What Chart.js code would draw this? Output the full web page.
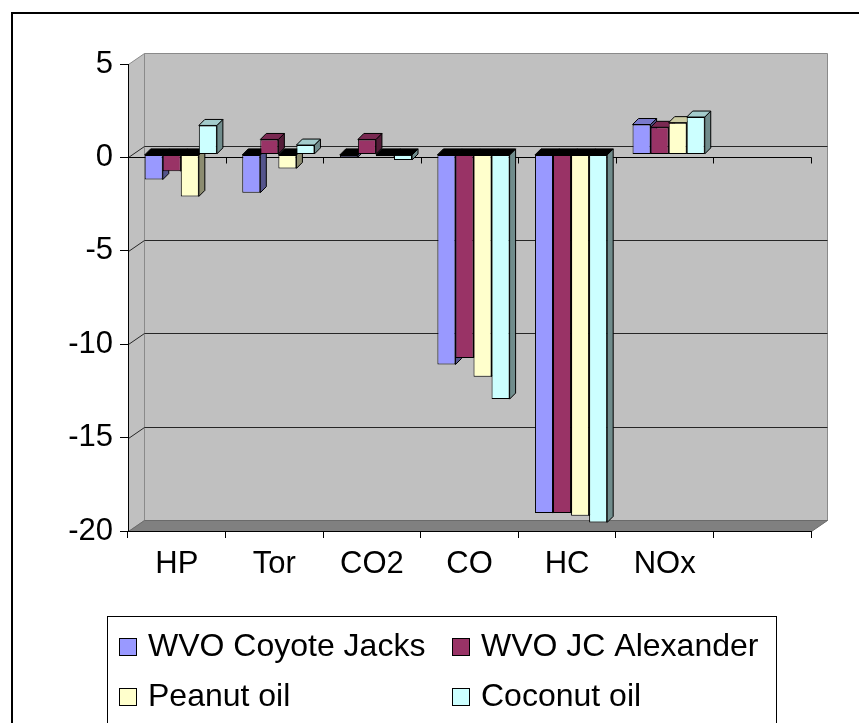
<!DOCTYPE html>
<html>
<head>
<meta charset="utf-8">
<script src="https://cdn.jsdelivr.net/npm/chart.js@4/dist/chart.umd.min.js"></script>
<style>
  html, body { margin: 0; padding: 0; background: #fff; }
  canvas { display: block; }
</style>
</head>
<body>
<canvas id="chart" width="859" height="723"></canvas>
<script>
// ── data ───────────────────────────────────────────────────────────
const categories = ['HP', 'Tor', 'CO2', 'CO', 'HC', 'NOx', ''];
const coyoteJacks = [-1.35, -2.05, -0.15, -11.25, -19.2, 1.6, null];
const jcAlexander = [-0.9, 0.8, 0.8, -10.9, -19.2, 1.45, null];
const peanutOil = [-2.25, -0.75, -0.1, -11.9, -19.35, 1.7, null];
const coconutOil = [1.55, 0.5, -0.3, -13.1, -19.7, 2.0, null];
const seriesNames = ['WVO Coyote Jacks', 'WVO JC Alexander', 'Peanut oil', 'Coconut oil'];
const seriesValues = [coyoteJacks, jcAlexander, peanutOil, coconutOil];
const seriesColors = ['#9999ff', '#993366', '#ffffcc', '#ccffff'];
const yMin = -20, yMax = 5, yStep = 5;

// ── 3D look ────────────────────────────────────────────────────────
const FONT = 'Liberation Sans, Arial, sans-serif';
const WALL_DX = 16, WALL_DY = -11;    // back wall offset from the front plane
const BAR_SHIFT_X = 4, BAR_SHIFT_Y = -3; // bars sit a little behind the front
const BAR_DX = 6, BAR_DY = -6;          // bar depth

function shade(hex, f) {
    const n = parseInt(hex.slice(1), 16);
    const r = Math.round(((n >> 16) & 255) * f);
    const g = Math.round(((n >> 8) & 255) * f);
    const b = Math.round((n & 255) * f);
    return `rgb(${r},${g},${b})`;
}

function poly(ctx, pts, fill, stroke) {
    ctx.beginPath();
    ctx.moveTo(pts[0][0], pts[0][1]);
    for (let i = 1; i < pts.length; i++) ctx.lineTo(pts[i][0], pts[i][1]);
    ctx.closePath();
    if (fill) { ctx.fillStyle = fill; ctx.fill(); }
    if (stroke) { ctx.strokeStyle = stroke; ctx.stroke(); }
}

const crisp = v => Math.round(v) + 0.5;

// Walls, floor, back gridlines and the front zero axis (behind the bars).
const wallPlugin = {
    id: 'wall3d',
    beforeDraw(chart) {
        const { ctx, chartArea: a, scales: { x, y } } = chart;
        ctx.save();

        // outer frame (top + left edge)
        ctx.strokeStyle = '#000';
        ctx.lineWidth = 2;
        ctx.beginPath();
        ctx.moveTo(12, chart.height);
        ctx.lineTo(12, 13);
        ctx.lineTo(chart.width, 13);
        ctx.stroke();

        ctx.lineWidth = 1;
        const L = crisp(a.left), R = crisp(a.right);
        const T = crisp(y.getPixelForValue(yMax)), B = crisp(y.getPixelForValue(yMin));

        // side wall
        poly(ctx, [[L, T], [L + WALL_DX, T + WALL_DY], [L + WALL_DX, B + WALL_DY], [L, B]], '#c0c0c0', '#8a8a8a');
        // back wall
        poly(ctx, [[L + WALL_DX, T + WALL_DY], [R + WALL_DX, T + WALL_DY], [R + WALL_DX, B + WALL_DY], [L + WALL_DX, B + WALL_DY]], '#c0c0c0', '#8a8a8a');
        // floor
        poly(ctx, [[L, B], [L + WALL_DX, B + WALL_DY], [R + WALL_DX, B + WALL_DY], [R, B]], '#808080', '#6a6a6a');

        // gridlines on the walls
        ctx.strokeStyle = '#262626';
        for (let v = yMax - yStep; v > yMin; v -= yStep) {
            const py = crisp(y.getPixelForValue(v));
            ctx.beginPath();
            ctx.moveTo(L, py);
            ctx.lineTo(L + WALL_DX, py + WALL_DY);
            ctx.lineTo(R + WALL_DX, py + WALL_DY);
            ctx.stroke();
        }

        // front zero axis with tick marks at category boundaries
        const z = crisp(y.getPixelForValue(0));
        ctx.strokeStyle = '#000';
        ctx.beginPath();
        ctx.moveTo(L, z);
        ctx.lineTo(R, z);
        const step = (x.right - x.left) / categories.length;
        for (let i = 0; i <= categories.length; i++) {
            const px = crisp(x.left + i * step);
            ctx.moveTo(px, z);
            ctx.lineTo(px, z + 6);
        }
        ctx.stroke();
        ctx.restore();
    },
    // Chart.js draws datasets last-to-first; we draw them ourselves in order
    // so each bar's front hides the side face of the bar on its left.
    beforeDatasetDraw() { return false; },
    afterDatasetsDraw(chart) {
        const ctx = chart.ctx;
        ctx.save();
        ctx.translate(BAR_SHIFT_X, BAR_SHIFT_Y);
        ctx.lineWidth = 1;
        chart.data.datasets.forEach((ds, di) => {
            const meta = chart.getDatasetMeta(di);
            meta.controller.draw();
            const color = seriesColors[di];
            meta.data.forEach((bar, i) => {
                if (ds.data[i] == null) return;
                const p = bar.getProps(['x', 'y', 'base', 'width'], true);
                const l = p.x - p.width / 2, r = p.x + p.width / 2;
                const t = Math.min(p.y, p.base), b = Math.max(p.y, p.base);
                const positive = p.y < p.base;
                poly(ctx, [[r, t], [r + BAR_DX, t + BAR_DY], [r + BAR_DX, b + BAR_DY], [r, b]], shade(color, 0.55), '#000');
                poly(ctx, [[l, t], [l + BAR_DX, t + BAR_DY], [r + BAR_DX, t + BAR_DY], [r, t]], positive ? shade(color, 0.8) : '#000', '#000');
            });
        });
        ctx.restore();
    }
};

// Boxed two-column legend under the chart.
const legendPlugin = {
    id: 'boxLegend',
    afterDraw(chart) {
        const ctx = chart.ctx;
        ctx.save();
        ctx.strokeStyle = '#000';
        ctx.lineWidth = 1;
        ctx.strokeRect(107.5, 616.5, 669, 140);
        const cols = [119, 452], rows = [638, 688], box = 17;
        ctx.font = `32px ${FONT}`;
        ctx.textBaseline = 'alphabetic';
        ctx.textAlign = 'left';
        chart.data.datasets.forEach((ds, i) => {
            const cx = cols[i % 2], cy = rows[Math.floor(i / 2)];
            ctx.fillStyle = ds.backgroundColor;
            ctx.fillRect(cx + 0.5, cy + 0.5, box, box);
            ctx.strokeRect(cx + 0.5, cy + 0.5, box, box);
            ctx.fillStyle = '#000';
            ctx.fillText(ds.label, cx + 29, cy + 18);
        });
        ctx.restore();
    }
};

new Chart(document.getElementById('chart'), {
    type: 'bar',
    data: {
        labels: categories,
        datasets: seriesNames.map((name, i) => ({
            label: name,
            data: seriesValues[i],
            backgroundColor: seriesColors[i],
            borderColor: '#000',
            borderWidth: 1,
            borderSkipped: false,
            categoryPercentage: 0.74,
            barPercentage: 1.0,
            clip: false
        }))
    },
    options: {
        responsive: false,
        devicePixelRatio: 1,
        animation: false,
        layout: { padding: { left: 0, right: 48, top: 64, bottom: 132 } },
        scales: {
            x: {
                ticks: { color: '#000', font: { family: FONT, size: 31 }, padding: 8, maxRotation: 0, autoSkip: false },
                grid: { drawOnChartArea: false, offset: true, tickLength: 7, color: '#000' },
                border: { color: '#000', width: 1 },
                afterFit(scale) { scale.height = 60; }
            },
            y: {
                min: yMin,
                max: yMax,
                ticks: { stepSize: yStep, color: '#000', font: { family: FONT, size: 31 }, padding: 7 },
                grid: { drawOnChartArea: false, tickLength: 8, color: '#000' },
                border: { color: '#000', width: 1 },
                afterFit(scale) { scale.width = 128; }
            }
        },
        plugins: {
            legend: { display: false },
            tooltip: { enabled: false }
        }
    },
    plugins: [wallPlugin, legendPlugin]
});
</script>
</body>
</html>
